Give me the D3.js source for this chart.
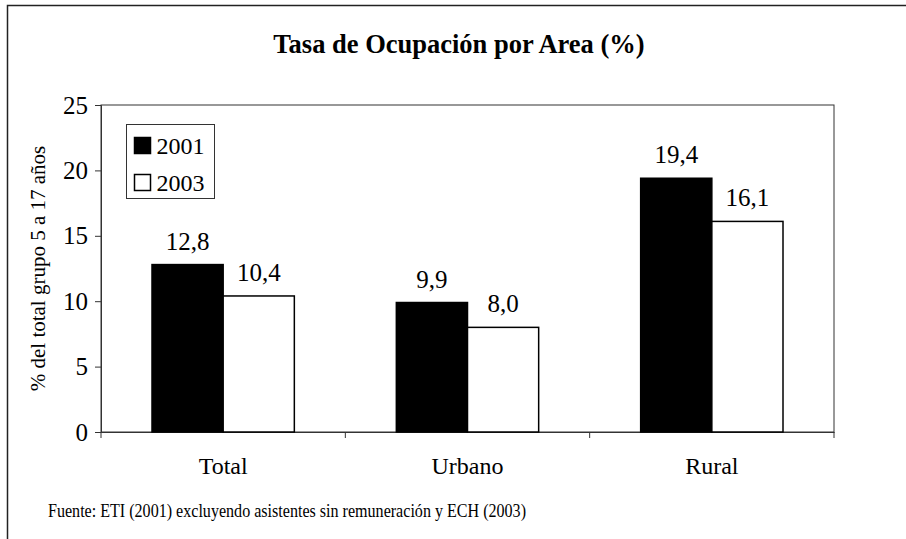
<!DOCTYPE html>
<html>
<head>
<meta charset="utf-8">
<script src="https://cdn.jsdelivr.net/npm/d3@7"></script>
<style>
  body { margin: 0; background: #fff; }
  svg text { font-family: "Liberation Serif", "Times New Roman", Times, serif; }
</style>
</head>
<body>
<svg id="chart" width="906" height="539"></svg>
<script>
const categories = ["Total", "Urbano", "Rural"];
const years = ["2001", "2003"];
const values2001 = [12.8, 9.9, 19.4];
const values2003 = [10.4, 8.0, 16.1];
const yTicks = [0, 5, 10, 15, 20, 25];

const svg = d3.select("#chart");
const margin = { top: 105, right: 72, bottom: 107, left: 101 };
const width = 906 - margin.left - margin.right;
const height = 539 - margin.top - margin.bottom;

// outer frame (right and bottom edges fall outside the picture)
svg.append("rect")
  .attr("x", 7.5).attr("y", 5.5)
  .attr("width", 920).attr("height", 560)
  .attr("fill", "none").attr("stroke", "#222").attr("stroke-width", 1.5);

svg.append("text")
  .attr("x", 459).attr("y", 53)
  .attr("text-anchor", "middle")
  .attr("font-size", 26.5).attr("font-weight", "bold")
  .text("Tasa de Ocupación por Area (%)");

const g = svg.append("g").attr("transform", `translate(${margin.left},${margin.top})`);

const x0 = d3.scaleBand().domain(categories).range([0, width]).paddingInner(0).paddingOuter(0);
const x1 = d3.scaleBand().domain(years).range([51, x0.bandwidth() - 51]);
const y = d3.scaleLinear().domain([0, 25]).range([height, 0]);

// plot frame
g.append("rect")
  .attr("x", 0).attr("y", 0).attr("width", width).attr("height", height)
  .attr("fill", "none").attr("stroke", "#333").attr("stroke-width", 1);

const yAxis = g.append("g")
  .call(d3.axisLeft(y).tickValues(yTicks).tickSize(6).tickPadding(7).tickFormat(d3.format("d")));
yAxis.attr("font-family", null).attr("font-size", 25);
yAxis.select(".domain").attr("stroke", "#333");
yAxis.selectAll(".tick line").attr("stroke", "#333");
yAxis.selectAll("text").attr("fill", "#000");

const xAxis = g.append("g").attr("transform", `translate(0,${height})`)
  .call(d3.axisBottom(x0).tickSize(0).tickPadding(25));
xAxis.attr("font-family", null).attr("font-size", 24);
xAxis.select(".domain").attr("stroke", "#333");
xAxis.selectAll("text").attr("fill", "#000");
// category boundary ticks
g.selectAll(".boundary")
  .data(d3.range(categories.length + 1))
  .enter().append("line")
  .attr("x1", i => i * x0.step()).attr("x2", i => i * x0.step())
  .attr("y1", height).attr("y2", height + 6)
  .attr("stroke", "#333");

const series = [
  { year: "2001", values: values2001, fill: "#000" },
  { year: "2003", values: values2003, fill: "#fff" }
];

series.forEach(s => {
  const grp = g.append("g");
  grp.selectAll("rect")
    .data(categories.map((c, i) => ({ c, v: s.values[i] })))
    .enter().append("rect")
    .attr("x", d => x0(d.c) + x1(s.year))
    .attr("y", d => y(d.v))
    .attr("width", x1.bandwidth())
    .attr("height", d => height - y(d.v))
    .attr("fill", s.fill)
    .attr("stroke", "#000").attr("stroke-width", 1.5);
  grp.selectAll("text")
    .data(categories.map((c, i) => ({ c, v: s.values[i] })))
    .enter().append("text")
    .attr("x", d => x0(d.c) + x1(s.year) + x1.bandwidth() / 2)
    .attr("y", d => y(d.v) - 15)
    .attr("text-anchor", "middle")
    .attr("font-size", 25)
    .text(d => d3.format(".1f")(d.v).replace(".", ","));
});

// y axis title
svg.append("text")
  .attr("transform", `translate(45,${margin.top + height / 2}) rotate(-90)`)
  .attr("text-anchor", "middle")
  .attr("font-size", 21)
  .text("% del total grupo 5 a 17 años");

// legend
const lg = svg.append("g").attr("transform", "translate(126.5,124.5)");
lg.append("rect").attr("width", 88).attr("height", 74)
  .attr("fill", "#fff").attr("stroke", "#333").attr("stroke-width", 1);
series.forEach((s, i) => {
  lg.append("rect")
    .attr("x", 8).attr("y", 13 + i * 37).attr("width", 16).attr("height", 16)
    .attr("fill", s.fill).attr("stroke", "#000").attr("stroke-width", 1.5);
  lg.append("text")
    .attr("x", 30).attr("y", 29.5 + i * 37)
    .attr("font-size", 24)
    .text(s.year);
});

svg.append("text")
  .attr("x", 48).attr("y", 517)
  .attr("font-size", 19)
  .attr("textLength", 478).attr("lengthAdjust", "spacingAndGlyphs")
  .text("Fuente: ETI (2001) excluyendo asistentes sin remuneración y ECH (2003)");
</script>
</body>
</html>
